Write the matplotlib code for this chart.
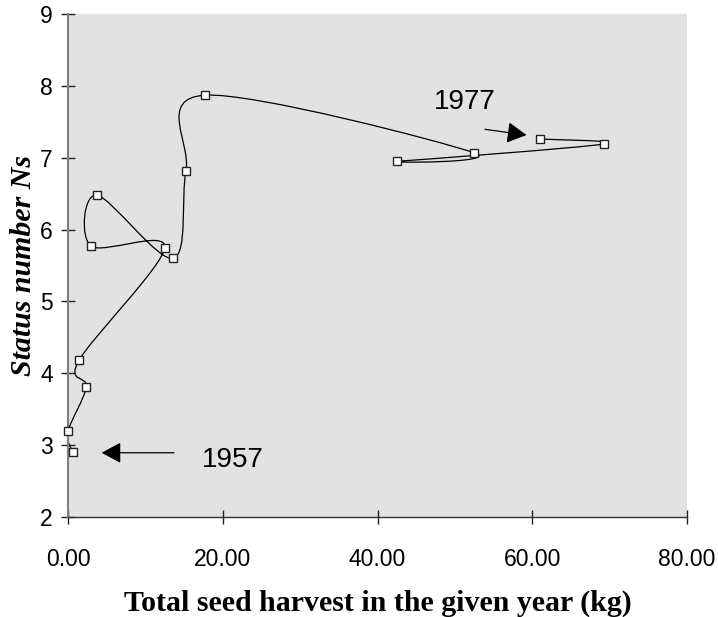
import numpy as np
import matplotlib.pyplot as plt
from matplotlib.path import Path
from matplotlib.patches import PathPatch

# seed harvest (kg) vs status number, in year order 1957 -> 1977
harvest = [0.6, 0.0, 2.37, 1.42, 12.5, 2.97, 3.75, 13.6, 15.25, 17.7, 52.45, 42.5, 69.25, 61.0]
status = [2.91, 3.19, 3.81, 4.18, 5.75, 5.77, 6.48, 5.60, 6.82, 7.87, 7.07, 6.95, 7.19, 7.26]

xticks = [0, 20, 40, 60, 80]
xticklabels = ['0.00', '20.00', '40.00', '60.00', '80.00']
yticks = [2, 3, 4, 5, 6, 7, 8, 9]


def smooth_path(x, y):
    # excel style smoothed line: bezier segments with catmull-rom control points
    p = np.column_stack([x, y])
    ext = np.vstack([p[0], p, p[-1]])
    verts = [p[0]]
    codes = [Path.MOVETO]
    for i in range(len(p) - 1):
        c1 = ext[i + 1] + (ext[i + 2] - ext[i]) / 6.0
        c2 = ext[i + 2] - (ext[i + 3] - ext[i + 1]) / 6.0
        verts += [c1, c2, p[i + 1]]
        codes += [Path.CURVE4] * 3
    return Path(verts, codes)


fig = plt.figure(figsize=(7.18, 6.17), dpi=100)
ax = fig.add_axes([68 / 718, 1 - 517 / 617, 619 / 718, 503 / 617])
ax.set_facecolor('#e2e2e2')

ax.add_patch(PathPatch(smooth_path(harvest, status), facecolor='none',
                       edgecolor='black', lw=0.9, zorder=2))
ax.plot(harvest, status, linestyle='none', marker='s', markersize=6,
        markerfacecolor='white', markeredgecolor='#222222', markeredgewidth=1,
        zorder=3, clip_on=False)

ax.set_xlim(0, 80)
ax.set_ylim(2, 9)
ax.set_xticks(xticks)
ax.set_xticklabels(xticklabels)
ax.set_yticks(yticks)

for s in ['top', 'right']:
    ax.spines[s].set_visible(False)
ax.spines['left'].set_color('#808080')
ax.spines['left'].set_linewidth(1.5)
ax.spines['bottom'].set_color('#333333')
ax.spines['bottom'].set_linewidth(1)

ax.tick_params(axis='both', direction='inout', length=10, width=1, color='#222222',
               labelsize=16.5)
ax.tick_params(axis='x', pad=17)
ax.tick_params(axis='y', pad=6)
for lab in ax.get_xticklabels() + ax.get_yticklabels():
    lab.set_family('Liberation Sans')

ax.set_xlabel('Total seed harvest in the given year (kg)', family='Liberation Serif',
              fontweight='bold', fontsize=21.5, labelpad=14)
ax.set_ylabel('Status number Ns', family='Liberation Serif', fontweight='bold',
              fontstyle='italic', fontsize=21.5, labelpad=2)

# year annotations
ax.annotate('', xy=(4.35, 2.894), xytext=(13.7, 2.894),
            arrowprops=dict(arrowstyle='-|>,head_length=12,head_width=6.5',
                            mutation_scale=1, color='black', lw=0.9,
                            shrinkA=0, shrinkB=0))
ax.text(17.3, 2.80, '1957', family='Liberation Sans', fontsize=20, va='center', ha='left')

ax.annotate('', xy=(59.26, 7.315), xytext=(53.9, 7.395),
            arrowprops=dict(arrowstyle='-|>,head_length=12,head_width=6.5',
                            mutation_scale=1, color='black', lw=0.9,
                            shrinkA=0, shrinkB=0))
ax.text(47.3, 7.78, '1977', family='Liberation Sans', fontsize=20, va='center', ha='left')

fig.savefig('out.png', dpi=100)
